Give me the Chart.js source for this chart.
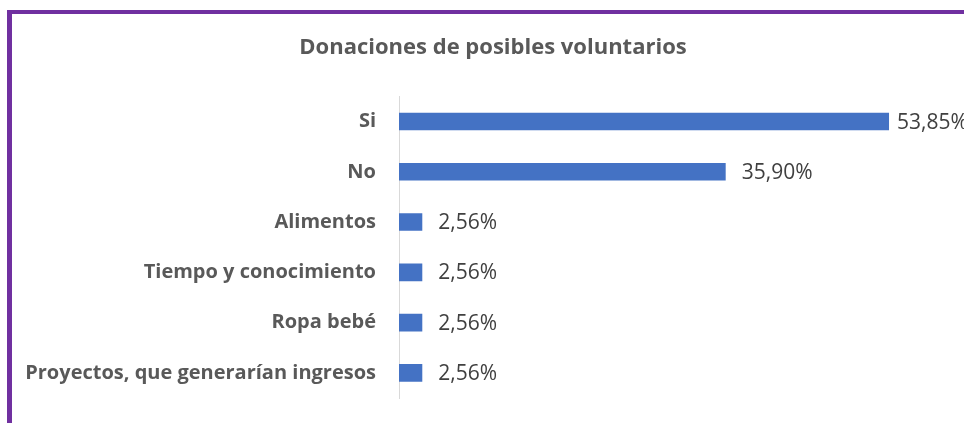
<!DOCTYPE html>
<html>
<head>
<meta charset="utf-8">
<script src="https://cdn.jsdelivr.net/npm/chart.js@4"></script>
<style>
  html, body { margin: 0; padding: 0; background: #fff; overflow: hidden; }
  #wrap { position: relative; width: 964px; height: 423px; }
  #frame { position: absolute; left: 7px; top: 10px; width: 1000px; height: 500px;
           border-top: 4px solid #7030A0; border-left: 5px solid #7030A0; pointer-events: none; }
</style>
</head>
<body>
<div id="wrap">
  <canvas id="myChart" width="964" height="423"></canvas>
  <div id="frame"></div>
</div>
<script>
const labels = ['Si', 'No', 'Alimentos', 'Tiempo y conocimiento', 'Ropa bebé', 'Proyectos, que generarían ingresos'];
const values = [53.85, 35.90, 2.56, 2.56, 2.56, 2.56];
const title = 'Donaciones de posibles voluntarios';

const ctx = document.getElementById('myChart');

// etiquetas de datos al final de cada barra
const valueLabels = {
  id: 'valueLabels',
  afterLayout(chart) {
    // el título está centrado sobre todo el gráfico original (más ancho)
    if (chart.titleBlock) chart.titleBlock.left += 19;
  },
  afterDatasetsDraw(chart) {
    const c = chart.ctx;
    const area = chart.chartArea;
    const meta = chart.getDatasetMeta(0);
    c.save();
    c.font = '21px "Open Sans"';
    c.fillStyle = '#404040';
    c.textBaseline = 'middle';
    c.textAlign = 'left';
    meta.data.forEach((bar, i) => {
      const txt = values[i].toFixed(2).replace('.', ',') + '%';
      const x = Math.min(bar.x + 16, area.right - 48);
      c.fillText(txt, x, bar.y + 1);
    });
    c.restore();
  }
};

new Chart(ctx, {
  type: 'bar',
  data: {
    labels: labels,
    datasets: [{
      data: values,
      backgroundColor: '#4472C4',
      borderWidth: 0,
      categoryPercentage: 1,
      barPercentage: 0.35
    }]
  },
  options: {
    indexAxis: 'y',
    responsive: false,
    animation: false,
    layout: { padding: { left: 22, right: 19, top: 0, bottom: 25 } },
    plugins: {
      legend: { display: false },
      tooltip: { enabled: false },
      title: {
        display: true,
        text: title,
        color: '#595959',
        font: { family: 'Open Sans', size: 22, weight: 'bold', lineHeight: 1.2 },
        padding: { top: 35, bottom: 35 }
      }
    },
    scales: {
      x: {
        display: false,
        min: 0,
        max: 60
      },
      y: {
        grid: { display: false, drawTicks: false },
        border: { display: true, color: '#d9d9d9', width: 1 },
        ticks: {
          color: '#595959',
          padding: 23,
          font: { family: 'Open Sans', size: 20, weight: 'bold' }
        },
        afterFit(scale) {
          scale.width = 377;
          scale.paddingTop = 0;
          scale.paddingBottom = 0;
        }
      }
    }
  },
  plugins: [valueLabels]
});
</script>
</body>
</html>
